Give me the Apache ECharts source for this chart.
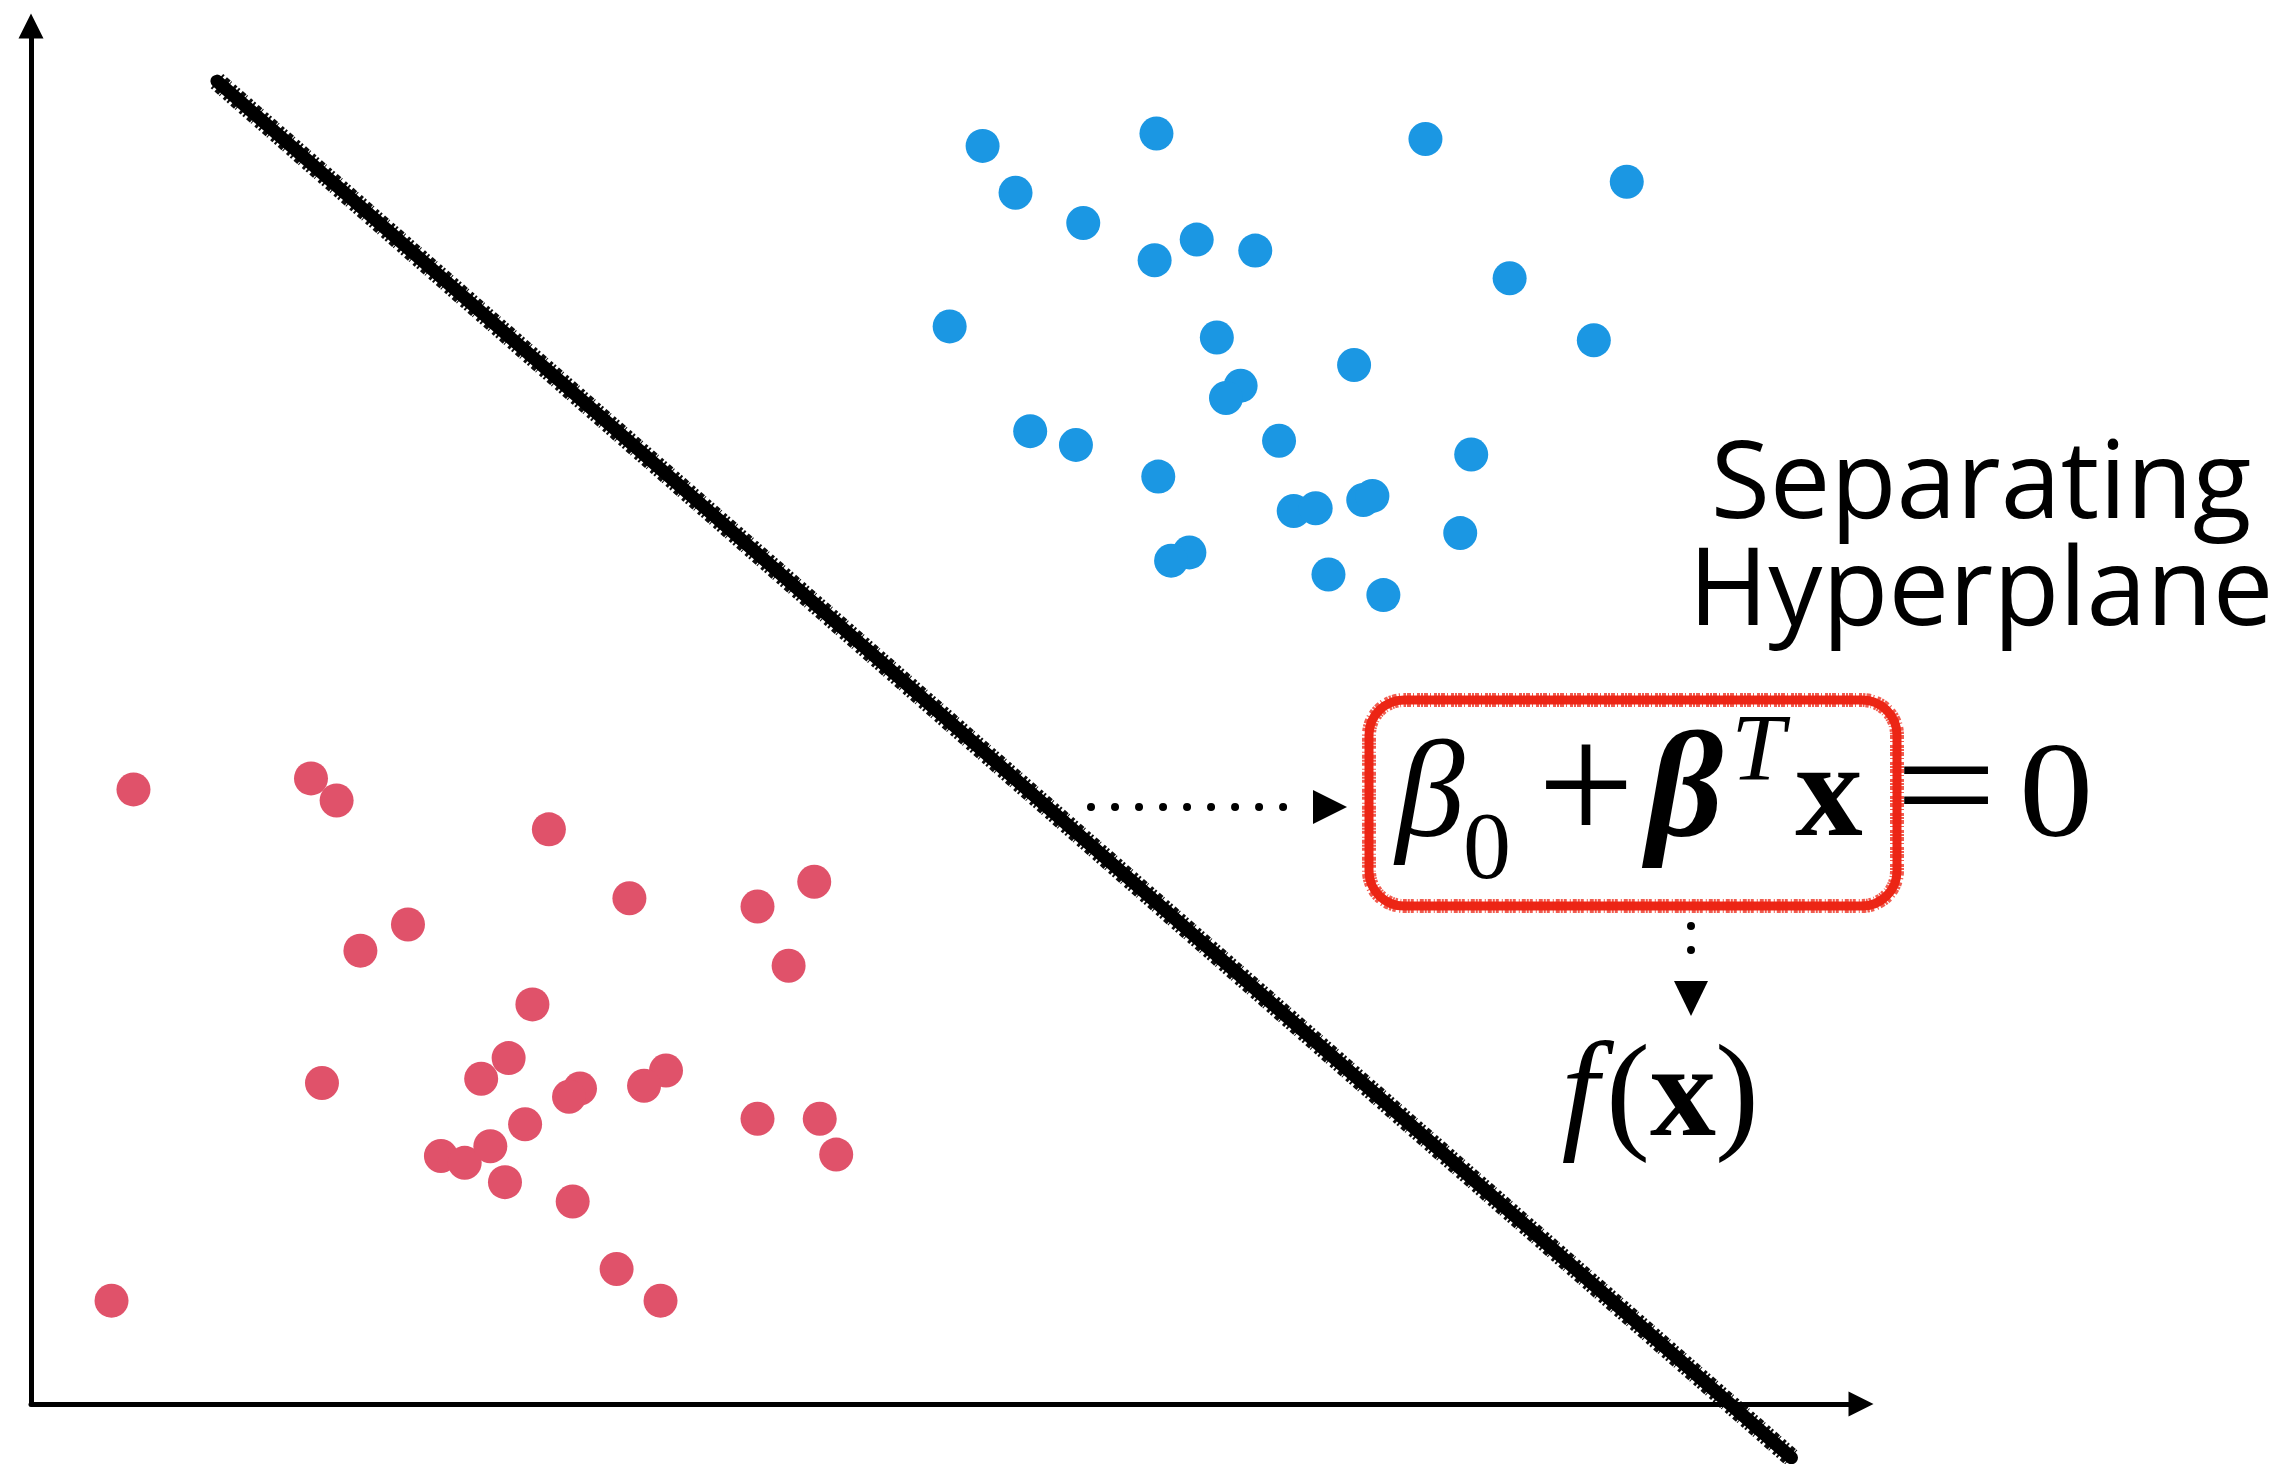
<!DOCTYPE html>
<html>
<head>
<meta charset="utf-8">
<title>Separating Hyperplane</title>
<script src="https://cdn.jsdelivr.net/npm/echarts@6/dist/echarts.min.js"></script>
<style>
  html, body { margin: 0; padding: 0; background: #ffffff; }
  #chart { width: 2285px; height: 1464px; }
</style>
</head>
<body>
<div id="chart"></div>
<script>
// Class +1 (blue cluster, upper right)
const blueX = [52.0, 61.5, 76.2, 87.2, 53.8, 57.5, 61.4, 63.7, 66.9, 80.8,
               50.2, 64.8, 85.4, 72.3, 66.1, 65.3, 54.6, 57.1, 68.2, 78.7,
               61.6, 69.0, 70.2, 72.8, 73.3, 78.1, 63.3, 62.3, 70.9, 73.9];
const blueY = [91.3, 92.2, 91.8, 88.7, 87.9, 85.7, 83.0, 84.5, 83.7, 81.7,
               78.2, 77.4, 77.2, 75.4, 73.9, 73.0, 70.6, 69.6, 69.9, 68.9,
               67.3, 64.8, 65.0, 65.6, 65.9, 63.2, 61.8, 61.2, 60.2, 58.7];

// Class -1 (red cluster, lower left)
const redX = [5.6, 15.3, 16.7, 28.3, 32.7, 39.7, 42.8, 20.6, 18.0, 41.4,
              27.4, 26.1, 24.6, 15.9, 30.0, 29.4, 34.7, 33.5, 39.7, 43.1,
              44.0, 27.0, 22.4, 23.7, 25.1, 25.9, 29.6, 32.0, 34.4, 4.4];
const redY = [44.6, 45.4, 43.8, 41.7, 36.7, 36.1, 37.9, 34.8, 32.9, 31.8,
              29.0, 25.1, 23.6, 23.3, 22.9, 22.3, 24.2, 23.1, 20.7, 20.7,
              18.1, 20.3, 18.0, 17.5, 18.7, 16.1, 14.7, 9.8, 7.5, 7.5];

// Decision boundary end points
const planeX = [10.16, 96.2];
const planeY = [96.0, -3.9];

const pairs = (xs, ys) => xs.map((x, i) => [x, ys[i]]);

const SERIF = '"Liberation Serif", "DejaVu Serif", serif';
const SANS = '"Open Sans", "Noto Sans", sans-serif';

// glyph helper: x is the horizontal centre, base is the alphabetic baseline
function glyph(text, x, base, size, opts) {
  opts = opts || {};
  const y = base - size * 0.3375;
  return {
    type: 'text',
    z: 20,
    x: x,
    y: y,
    scaleX: opts.sx || 1,
    style: {
      text: text,
      x: 0,
      y: 0,
      align: 'center',
      verticalAlign: 'middle',
      fontFamily: opts.family || SERIF,
      fontSize: size,
      fontStyle: opts.italic ? 'italic' : 'normal',
      fontWeight: opts.bold ? 'bold' : 'normal',
      fill: '#000000'
    }
  };
}

function sansLine(text, x, base, size) {
  return {
    type: 'text',
    z: 20,
    style: {
      text: text,
      x: x,
      y: base - size * 0.29,
      align: 'center',
      verticalAlign: 'middle',
      fontFamily: SANS,
      fontSize: size,
      fill: '#000000'
    }
  };
}

const chart = echarts.init(document.getElementById('chart'), null, { renderer: 'canvas' });

const axisCommon = {
  type: 'value',
  min: 0,
  max: 100,
  axisLine: {
    show: true,
    onZero: false,
    symbol: ['none', 'triangle'],
    symbolSize: [25, 25],
    lineStyle: { color: '#000000', width: 5 }
  },
  axisTick: { show: false },
  axisLabel: { show: false },
  splitLine: { show: false }
};

chart.setOption({
  backgroundColor: '#ffffff',
  animation: false,
  grid: { left: 31, right: 424, top: 26, bottom: 60, containLabel: false },
  xAxis: Object.assign({}, axisCommon),
  yAxis: Object.assign({}, axisCommon),
  series: [
    {
      type: 'line',
      name: 'hyperplane',
      data: pairs(planeX, planeY),
      symbol: 'none',
      clip: false,
      z: 3,
      lineStyle: { color: '#000000', width: 13, cap: 'round' }
    },
    {
      type: 'line',
      name: 'hyperplane-edge',
      data: pairs(planeX, planeY),
      symbol: 'none',
      clip: false,
      z: 3,
      lineStyle: { color: '#000000', width: 19, type: [2, 3, 5, 1, 1, 4, 3, 2], opacity: 0.95 }
    },
    {
      type: 'scatter',
      name: 'positive',
      data: pairs(blueX, blueY),
      symbol: 'circle',
      symbolSize: 34,
      z: 4,
      itemStyle: { color: '#1b97e3', opacity: 1 }
    },
    {
      type: 'scatter',
      name: 'negative',
      data: pairs(redX, redY),
      symbol: 'circle',
      symbolSize: 34,
      z: 4,
      itemStyle: { color: '#e0526a', opacity: 1 }
    }
  ],
  graphic: [
    // label
    sansLine('Separating', 1981, 519, 108),
    sansLine('Hyperplane', 1981, 626, 108),

    // red box around the decision function
    {
      type: 'rect', z: 15,
      shape: { x: 1369, y: 700, width: 528, height: 206, r: 35 },
      style: { fill: 'none', stroke: '#ec2616', lineWidth: 9 }
    },
    {
      type: 'rect', z: 15,
      shape: { x: 1369, y: 700, width: 528, height: 206, r: 35 },
      style: { fill: 'none', stroke: '#ec2616', lineWidth: 14, lineDash: [2, 1, 4, 2, 1, 3, 3, 1], opacity: 0.75 }
    },

    // dotted arrow: hyperplane -> equation
    {
      type: 'line', z: 15,
      shape: { x1: 1091, y1: 807, x2: 1307, y2: 807 },
      style: { stroke: '#000000', lineWidth: 8, lineCap: 'round', lineDash: [0.01, 24] }
    },
    {
      type: 'polygon', z: 15,
      shape: { points: [[1313, 790], [1347, 807], [1313, 824]] },
      style: { fill: '#000000' }
    },

    // dotted arrow: equation -> f(x)
    {
      type: 'line', z: 15,
      shape: { x1: 1691, y1: 926, x2: 1691, y2: 974 },
      style: { stroke: '#000000', lineWidth: 8, lineCap: 'round', lineDash: [0.01, 24] }
    },
    {
      type: 'polygon', z: 15,
      shape: { points: [[1674, 981], [1708, 981], [1691, 1016]] },
      style: { fill: '#000000' }
    },

    // beta_0 + beta^T x = 0
    glyph('β', 1430, 846, 138, { italic: true }),
    glyph('0', 1487, 885, 96),
    glyph('+', 1586, 855, 172),
    glyph('β', 1685, 848, 150, { italic: true, bold: true }),
    glyph('T', 1758, 787, 96, { italic: true }),
    glyph('x', 1829, 846, 135, { bold: true }),
    glyph('=', 1946, 846, 150, { sx: 1.2 }),
    glyph('0', 2056, 846, 135, { sx: 1.1 }),

    // f(x)
    glyph('f', 1580, 1145, 134, { italic: true }),
    glyph('(', 1628, 1145, 132),
    glyph('x', 1683, 1145, 132, { bold: true }),
    glyph(')', 1737, 1145, 132)
  ]
});
</script>
</body>
</html>
